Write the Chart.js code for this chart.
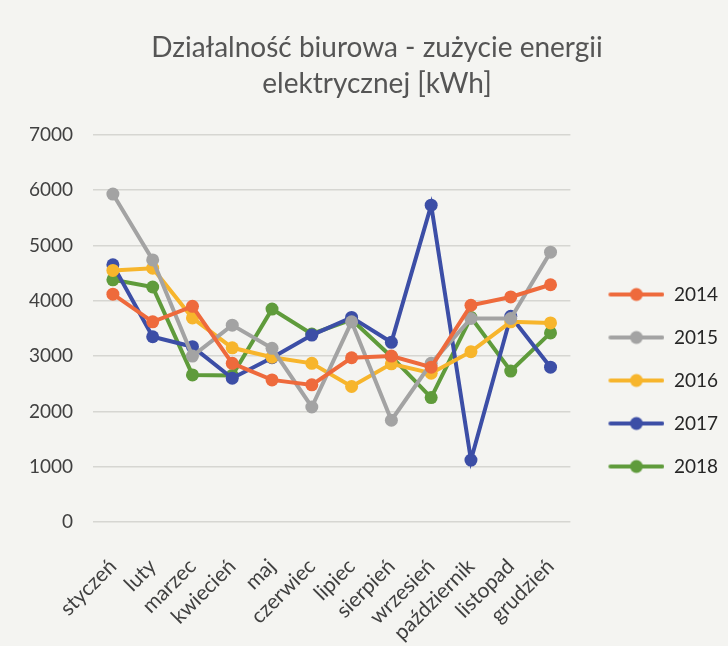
<!DOCTYPE html>
<html>
<head>
<meta charset="utf-8">
<script src="https://cdn.jsdelivr.net/npm/chart.js@4"></script>
<style>
  html, body { margin: 0; padding: 0; background: #f4f4f1; }
  #wrap { width: 728px; height: 646px; }
</style>
</head>
<body>
<div id="wrap"><canvas id="energyChart" width="728" height="646"></canvas></div>
<script>
  const months = ["styczeń", "luty", "marzec", "kwiecień", "maj", "czerwiec", "lipiec",
    "sierpień", "wrzesień", "październik", "listopad", "grudzień"];
  const years = ["2014", "2015", "2016", "2017", "2018"];

  // monthly usage (kWh)
  const usage2014 = [4120, 3620, 3900, 2870, 2570, 2480, 2970, 3000, 2800, 3920, 4070, 4290];
  const usage2015 = [5930, 4740, 3000, 3560, 3140, 2080, 3620, 1840, 2870, 3680, 3680, 4880];
  const usage2016 = [4550, 4590, 3690, 3150, 2980, 2870, 2450, 2860, 2690, 3080, 3620, 3600];
  const usage2017 = [4650, 3350, 3170, 2600, 2970, 3380, 3700, 3250, 5730, 1120, 3720, 2800];
  const usage2018 = [4380, 4250, 2660, 2650, 3850, 3400, 3660, 2990, 2250, 3700, 2730, 3420];
  const yTicks = [0, 1000, 2000, 3000, 4000, 5000, 6000, 7000];

  const colors = ["#ee6a3c", "#a3a3a3", "#f7b52c", "#3c4ea6", "#5f9b3b"];
  const series = [usage2014, usage2015, usage2016, usage2017, usage2018];

  // "line with dot" icon for the legend, with some empty room on the left
  function legendIcon(color) {
    const c = document.createElement("canvas");
    c.width = 70;
    c.height = 16;
    const g = c.getContext("2d");
    g.strokeStyle = color;
    g.lineWidth = 4;
    g.lineCap = "round";
    g.beginPath();
    g.moveTo(16, 8);
    g.lineTo(68, 8);
    g.stroke();
    g.fillStyle = color;
    g.beginPath();
    g.arc(42, 8, 6.5, 0, Math.PI * 2);
    g.fill();
    return c;
  }

  const ctx = document.getElementById("energyChart").getContext("2d");
  new Chart(ctx, {
    type: "line",
    data: {
      labels: months,
      datasets: years.map((y, i) => ({
        label: y,
        data: series[i],
        borderColor: colors[i],
        backgroundColor: colors[i],
        borderWidth: 4,
        pointRadius: 6.5,
        pointHoverRadius: 6.5,
        pointBorderWidth: 0,
        tension: 0,
      })),
    },
    options: {
      responsive: false,
      animation: false,
      layout: { padding: { left: 26, right: 0, top: 29, bottom: 0 } },
      plugins: {
        title: {
          display: true,
          text: ["Działalność biurowa - zużycie energii", "elektrycznej [kWh]"],
          color: "#555555",
          font: { family: "Lato", size: 28, weight: "normal", lineHeight: 1.32 },
          padding: { top: 0, bottom: 32 },
        },
        legend: {
          position: "right",
          title: { display: true, text: " ", font: { size: 10 }, padding: { top: 74, bottom: 0 } },
          labels: {
            usePointStyle: true,
            pointStyleWidth: 70,
            color: "#262626",
            font: { family: "Lato", size: 19 },
            padding: 24,
            generateLabels(chart) {
              const items = Chart.defaults.plugins.legend.labels.generateLabels(chart);
              items.forEach((it, i) => { it.pointStyle = legendIcon(colors[i]); });
              return items;
            },
          },
        },
        tooltip: { enabled: false },
      },
      scales: {
        x: {
          offset: true,
          afterFit(axis) { axis.height = 124; },
          grid: { display: false },
          border: { display: false },
          ticks: {
            autoSkip: false,
            maxRotation: 45,
            minRotation: 45,
            padding: 24,
            color: "#404040",
            font: { family: "Lato", size: 21 },
          },
        },
        y: {
          min: 0,
          max: 7000,
          afterBuildTicks(axis) { axis.ticks = yTicks.map(v => ({ value: v })); },
          afterFit(axis) { axis.width = 67; },
          grid: { color: "#d6d6d2", lineWidth: 1.5, drawTicks: false },
          border: { display: false },
          ticks: {
            color: "#404040",
            padding: 20,
            font: { family: "Lato", size: 19 },
            callback: v => String(v),
          },
        },
      },
    },
  });
</script>
</body>
</html>
